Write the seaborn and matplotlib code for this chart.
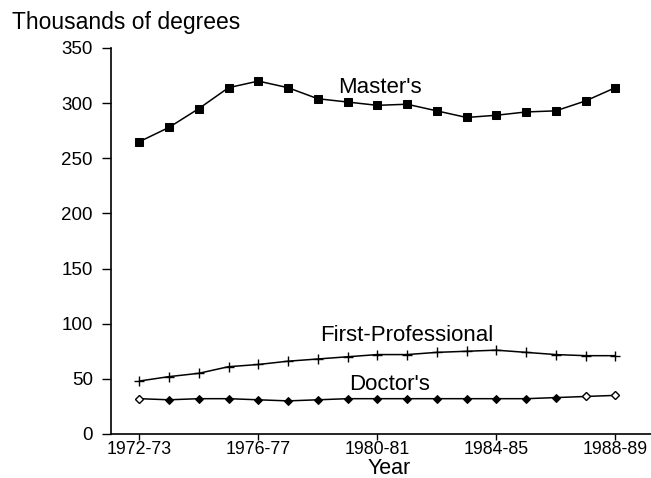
import numpy as np
import pandas as pd
import matplotlib
matplotlib.use("Agg")
import matplotlib.pyplot as plt
from matplotlib import font_manager
import seaborn as sns

# Academic years, 1972-73 through 1988-89
years = ["1972-73", "1973-74", "1974-75", "1975-76", "1976-77", "1977-78",
         "1978-79", "1979-80", "1980-81", "1981-82", "1982-83", "1983-84",
         "1984-85", "1985-86", "1986-87", "1987-88", "1988-89"]
tick_years = ["1972-73", "1976-77", "1980-81", "1984-85", "1988-89"]

# Degrees conferred, in thousands
masters = [265, 278, 295, 314, 320, 314, 304, 301, 298, 299, 293, 287,
           289, 292, 293, 302, 314]
first_professional = [48, 52, 55, 61, 63, 66, 68, 70, 72, 72, 74, 75,
                      76, 74, 72, 71, 71]
doctors = [32, 31, 32, 32, 31, 30, 31, 32, 32, 32, 32, 32,
           32, 32, 33, 34, 35]
doctors_open = [True] + [False] * 14 + [True, True]

df = pd.DataFrame({
    "year": years,
    "pos": np.arange(len(years)),
    "masters": masters,
    "first_professional": first_professional,
    "doctors": doctors,
    "doctors_open": doctors_open,
})

sns.set_theme(style="ticks")
plt.rcParams["font.family"] = ["Liberation Sans", "DejaVu Sans"]

# series labels use a condensed face when one is available
installed = {f.name for f in font_manager.fontManager.ttflist}
if "Liberation Sans Narrow" in installed:
    series_font = ["Liberation Sans Narrow", "Liberation Sans"]
    series_size = 19.5
else:
    series_font = ["Liberation Sans", "DejaVu Sans"]
    series_size = 16

fig = plt.figure(figsize=(6.51, 4.78), dpi=100)
ax = fig.add_axes([0.1705, 0.0921, 0.8295, 0.8075])

line_kw = dict(color="black", linewidth=1.1, ax=ax, legend=False)

sns.lineplot(data=df, x="pos", y="masters", marker="s", markersize=6,
             markeredgecolor="black", markerfacecolor="black", **line_kw)
sns.lineplot(data=df, x="pos", y="first_professional", marker="+",
             markersize=7, markeredgewidth=1.0, markeredgecolor="black",
             **line_kw)
sns.lineplot(data=df, x="pos", y="doctors", marker="D", markersize=4,
             markeredgecolor="black", markerfacecolor="black", **line_kw)
# hollow diamonds on a few Doctor's points
sns.scatterplot(data=df[df["doctors_open"]], x="pos", y="doctors", ax=ax,
                marker="D", s=16, facecolor="white", edgecolor="black",
                linewidth=0.9, zorder=5, legend=False)

ax.set_xlim(-0.95, 17.2)
ax.set_ylim(0, 350)
ax.set_xticks([years.index(t) for t in tick_years], tick_years)
ax.set_yticks(np.arange(0, 351, 50))
ax.set_xlabel("")
ax.set_ylabel("")

for side in ("top", "right"):
    ax.spines[side].set_visible(False)
for side in ("left", "bottom"):
    ax.spines[side].set_color("black")
    ax.spines[side].set_linewidth(1.2)

ax.tick_params(axis="both", direction="out", width=1.0,
               color="black", labelcolor="black")
ax.tick_params(axis="y", length=6.5, pad=6.5, labelsize=13.5)
ax.tick_params(axis="x", length=4, pad=1, labelsize=12.8)

label_kw = dict(ha="center", va="baseline", fontsize=series_size,
                color="black", family=series_font)
ax.text(8.1, 309, "Master's", **label_kw)
ax.text(9.0, 84, "First-Professional", **label_kw)
ax.text(8.4, 40, "Doctor's", **label_kw)

fig.text(12 / 651, 1 - 29 / 478, "Thousands of degrees", ha="left",
         va="baseline", fontsize=16.5, color="black")
fig.text(389 / 651, 4 / 478, "Year", ha="center", va="baseline",
         fontsize=15.5, color="black")

fig.savefig("out.png", dpi=100, facecolor="white")
